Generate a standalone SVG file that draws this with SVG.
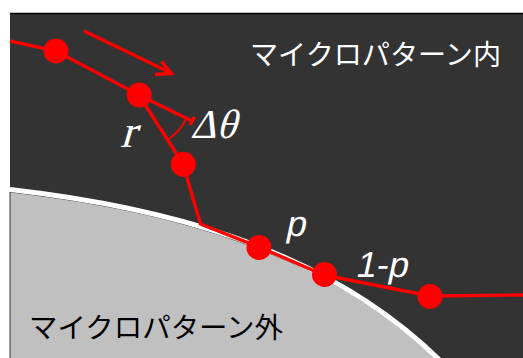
<svg xmlns="http://www.w3.org/2000/svg" width="523" height="358" viewBox="0 0 523 358">
  <defs>
    <style>
      .bg { fill: #333333; }
      .inner { fill: #c0c0c0; stroke: #3a3a3a; stroke-width: 1; }
      .edge { fill: none; stroke: #ffffff; stroke-width: 5; }
      .path { fill: none; stroke: #ff0000; stroke-width: 3.4; stroke-linejoin: miter; }
      .thin { fill: none; stroke: #ff0000; stroke-width: 1.8; }
      .node { fill: #ff0000; }
      .jp { font-family: "Noto Sans CJK JP", "Noto Sans", sans-serif; font-size: 28px; }
      .ser { font-family: "Liberation Serif", "DejaVu Serif", serif; fill: #ffffff; }
      .san { font-family: "Liberation Sans", Arial, sans-serif; fill: #ffffff; font-size: 36px; }
    </style>
  </defs>

  <rect class="bg" x="10" y="13" width="513" height="345"/>
  <line x1="10" y1="13.5" x2="523" y2="13.5" stroke="#000" stroke-width="1.5"/>

  <path class="inner" d="M10,192 C150,208 320,245 440,363 L10,363 Z"/>
  <path class="edge" d="M10,189.5 C150,205.5 320,242.5 440,360.5"/>

  <g id="connectors">
    <polyline class="path" points="10,41 56,51 139,95 183,164 200.5,224 259,247 324,275 430,296 523,295"/>
    <line class="path" x1="139" y1="95" x2="192" y2="121"/>
    <line class="path" x1="190" y1="125" x2="194.5" y2="117"/>
    <path class="thin" d="M186,119.5 A53,53 0 0 1 167.7,139.7"/>
    <line class="path" x1="84" y1="31" x2="171" y2="73"/>
    <polyline class="path" points="161.5,61.5 171.5,73.5 155,74.5"/>
  </g>

  <g id="n1"><circle class="node" cx="56" cy="51" r="12.5"/></g>
  <g id="n2"><circle class="node" cx="139.3" cy="95" r="12.5"/></g>
  <g id="n3"><circle class="node" cx="183.3" cy="164.3" r="12.5"/></g>
  <g id="n4"><circle class="node" cx="259" cy="247.5" r="12.5"/></g>
  <g id="n5"><circle class="node" cx="324.5" cy="274.5" r="12.5"/></g>
  <g id="n6"><circle class="node" cx="430" cy="296.5" r="12.5"/></g>

  <g id="labels">
    <text class="jp" x="250" y="65" fill="#ffffff" textLength="251" lengthAdjust="spacingAndGlyphs">マイクロパターン内</text>
    <text class="jp" x="29" y="338" fill="#000000" textLength="254" lengthAdjust="spacingAndGlyphs">マイクロパターン外</text>
    <text class="ser" transform="translate(120,146.5) skewX(-16)" x="0" y="0" font-size="46">r</text>
    <text class="ser" transform="translate(190,138) skewX(-16)" x="0" y="0" font-size="41">Δθ</text>
    <text class="san" transform="translate(285,236) skewX(-12)" x="0" y="0">p</text>
    <text class="san" transform="translate(355,277) skewX(-12)" x="0" y="0">1-p</text>
  </g>
</svg>
